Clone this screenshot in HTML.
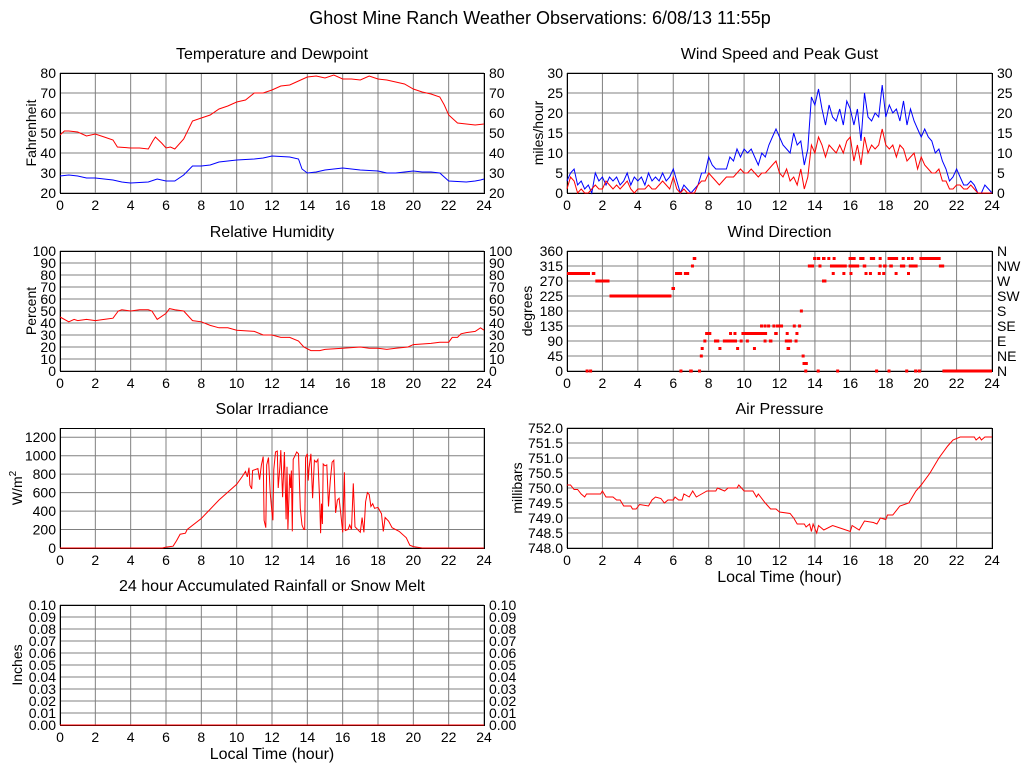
<!DOCTYPE html>
<html><head><meta charset="utf-8"><style>
html,body{margin:0;padding:0;background:#fff;}
svg{display:block;font-family:"Liberation Sans",Arial,sans-serif;}
</style></head><body>
<svg id="c" width="1024" height="768" viewBox="0 0 1024 768" xmlns="http://www.w3.org/2000/svg">
<rect width="1024" height="768" fill="#fff"/>
<text x="540" y="24" font-size="18" text-anchor="middle">Ghost Mine Ranch Weather Observations: 6/08/13 11:55p</text>
</svg>
<script>
// ---------- data ----------
const xTicks = [0,2,4,6,8,10,12,14,16,18,20,22,24];
const tempHours = [0,0.25,0.5,1,1.5,2,2.5,3,3.25,4,4.5,5,5.25,5.4,5.75,6,6.25,6.5,7,7.5,8,8.5,9,9.5,10,10.5,11,11.5,12,12.5,13,13.5,14,14.5,15,15.5,16,16.5,17,17.5,18,18.5,19,19.5,20,20.5,21,21.5,21.75,22,22.5,23,23.5,24];
const tempVals = [49,51,51,50.5,48.5,49.5,48,46.5,43,42.5,42.5,42,46,48,45,42.5,43,42,47,56,57.5,59,62,63.5,65.5,66.5,70,70,71.5,73.5,74,76,78,78.5,77.5,79,77,77,76.5,78.5,77,76.5,75.5,74.5,72,70.5,69.5,68,64,59,55,54.5,54,54.5];
const dewHours = [0,0.5,1,1.5,2,3,3.5,4,5,5.5,6,6.5,7,7.5,8,8.5,9,10,11,11.5,12,13,13.5,13.7,14,14.5,15,16,17,18,18.5,19,20,20.5,21,21.5,22,23,23.5,23.8,24];
const dewVals = [28.5,29,28.5,27.5,27.5,26.5,25.5,25,25.5,27,26,26,29,33.5,33.5,34,35.5,36.5,37,37.5,38.5,38,37,32,30,30.5,31.5,32.5,31.5,31,30,30,31,30.5,30.5,30,26,25.5,26,26.5,27];
const gustVals = [3,5,6,2,3,1,2,0,5,3,4,2,4,3,4,2,3,5,2,4,3,4,2,5,3,4,3,5,3,4,6,3,0,2,1,0,1,2,5,5,9,7,6,6,6,6,9,8,11,9,11,10,11,9,7,10,9,12,14,16,14,12,11,10,15,12,13,7,11,24,22,26,21,17,22,19,18,21,17,23,21,17,21,13,25,19,18,20,19,27,19,22,20,21,18,23,17,21,18,16,14,16,14,13,10,11,8,6,3,4,6,4,2,2,3,2,0,0,2,1,0];
const speedVals = [1,4,3,0,1,0,0,1,2,1,1,3,2,1,2,1,2,3,1,0,1,1,1,2,1,1,2,3,2,1,4,1,0,1,0,0,0,2,3,3,5,4,3,2,3,4,4,4,5,6,5,5,6,5,4,5,5,6,7,8,5,4,6,3,4,2,6,1,4,12,10,14,12,9,12,11,10,12,10,13,14,8,12,7,14,10,12,11,12,16,12,11,12,9,12,11,8,9,10,6,9,7,6,5,5,6,3,3,1,1,2,2,1,1,2,1,0,0,0,0,0];
const windStep = 0.2;
const rhHours = [0,0.5,0.8,1,1.5,2,2.5,3,3.3,3.5,4,4.5,5,5.2,5.5,6,6.2,6.5,7,7.5,8,8.5,9,9.5,10,11,11.5,12,12.5,13,13.5,13.8,14.2,14.7,15,16,17,17.5,18,18.5,19,19.7,20,21,21.5,22,22.2,22.5,22.7,23,23.5,23.8,24];
const rhVals = [45,41,43,42,43,42,43,44,50,51,50,51,51,50,43,48,52,51,50,42,41,38,36,36,34,33,30,30,28,28,25,20,17,17,18,19,20,19,19,18,19,20,22,23,24,24,28,28,31,32,33,36,34];
const dirStart = [0,1.4,1.6,2.4,5.9,6.1,6.6,7.0,7.1,1.05,1.25,6.35,6.9,7.4,7.5,7.55,7.7,7.8,8.3,8.55,8.8,9.15,9.4,9.55,9.75,9.85,10.9,11.1,11.3,11.6,11.8,10.1,11.1,11.4,12.3,10.5,12.4,11.7,12.35,12.9,12.75,13.05,13.15,12.85,13.25,13.3,13.4,13.6,14.2,14.85,15.9,16.7,17.6,17.85,18.2,18.8,19.3,21.0,14.95,15.55,15.95,16.8,17.05,17.55,17.8,18.5,19.2,14.4,13.9,14.1,14.4,14.7,15.0,15.9,16.5,17.1,17.6,18.1,18.9,19.2,19.4,19.9,14.1,15.2,17.4,18.1,19.1,19.6,19.8,21.2];
const dirEnd   = [1.3,1.6,2.4,5.9,6.1,6.5,6.9,7.05,7.3,1.1,1.35,6.45,7.1,7.55,7.6,7.65,7.75,8.15,8.6,8.7,9.6,9.25,9.5,9.65,9.8,11.3,10.95,11.15,11.35,11.65,12.2,10.15,11.15,11.6,12.7,10.55,12.6,11.9,12.4,13.0,12.8,13.1,13.25,12.95,13.3,13.6,13.45,13.95,14.35,15.8,16.5,16.9,17.75,18.05,18.4,19.1,19.8,21.3,15.05,15.65,16.05,16.9,17.15,17.65,17.95,18.6,19.3,14.65,14.0,14.3,14.6,14.8,15.05,16.3,16.8,17.4,17.7,18.7,18.95,19.25,19.45,21.1,14.2,15.3,17.5,18.2,19.2,19.7,20.0,24];
const dirDeg   = [292.5,292.5,270,225,247.5,292.5,292.5,315,337.5,0,0,0,0,0,45,67.5,90,112.5,90,67.5,90,112.5,112.5,67.5,90,112.5,135,135,135,135,135,90,90,90,90,67.5,67.5,112.5,112.5,112.5,135,135,180,90,45,22.5,0,315,315,315,315,315,315,315,315,315,315,315,292.5,292.5,292.5,292.5,292.5,292.5,292.5,292.5,292.5,270,337.5,337.5,337.5,337.5,337.5,337.5,337.5,337.5,337.5,337.5,337.5,337.5,337.5,337.5,0,0,0,0,0,0,0,0];
const solarHours = [0,5.8,6.0,6.4,6.6,6.8,7.1,7.2,8,9,10,10.3,10.5,10.6,10.7,10.75,10.85,10.9,11.2,11.3,11.4,11.5,11.55,11.65,11.7,11.8,11.9,12.0,12.05,12.1,12.2,12.3,12.35,12.45,12.5,12.6,12.7,12.8,12.85,12.9,13.0,13.05,13.1,13.15,13.2,13.3,13.4,13.5,13.6,13.7,13.8,13.85,13.9,14.0,14.05,14.1,14.2,14.3,14.4,14.5,14.6,14.7,14.75,14.8,14.85,14.9,15.0,15.1,15.2,15.3,15.4,15.5,15.6,15.7,15.8,15.9,16.0,16.1,16.15,16.3,16.4,16.5,16.6,16.7,16.8,17.0,17.1,17.2,17.3,17.4,17.5,17.6,17.7,17.8,18.0,18.2,18.3,18.4,18.6,18.8,19.2,19.6,19.8,20.0,20.5,24];
const solarVals = [0,0,10,20,80,150,160,200,320,520,690,770,830,770,870,680,640,840,860,740,900,990,300,220,900,980,600,380,300,850,1040,1050,650,880,1060,550,1040,310,880,200,800,650,840,180,960,1000,1040,1020,430,250,200,200,980,1020,730,870,1020,540,950,930,960,500,160,480,260,910,890,900,450,730,930,950,380,520,540,360,170,820,190,200,250,200,700,230,210,170,330,170,500,600,580,450,480,430,440,370,180,330,290,220,180,110,30,15,0,0];
const presHours = [0,0.2,0.4,0.6,0.8,1,1.1,1.9,2.0,2.2,2.6,2.8,3,3.2,3.6,3.7,3.9,4.1,4.6,4.8,5.0,5.3,5.5,5.7,6,6.1,6.3,6.5,6.6,6.9,7.1,7.3,7.6,7.9,8.4,8.5,8.9,9.1,9.6,9.7,10,10.5,10.7,10.8,11.2,11.5,11.8,12,12.6,12.8,13,13.4,13.5,13.7,13.8,13.9,14.1,14.2,14.5,15,15.5,16.0,16.1,16.5,16.8,17.3,17.5,17.7,18,18.1,18.4,18.8,19.3,19.7,20,20.5,21,21.5,21.8,22.2,23,23.1,23.3,23.4,23.6,24];
const presVals = [750.1,750.1,749.95,749.95,749.8,749.7,749.8,749.8,749.9,749.7,749.7,749.6,749.6,749.4,749.4,749.3,749.3,749.45,749.4,749.6,749.7,749.65,749.5,749.6,749.6,749.7,749.6,749.6,749.8,749.7,749.9,749.7,749.8,749.9,749.9,750.0,749.9,750.0,750.0,750.1,749.9,749.9,749.7,749.8,749.5,749.3,749.3,749.2,749.15,749.0,748.8,748.8,748.7,748.8,748.55,748.8,748.5,748.75,748.6,748.75,748.65,748.55,748.75,748.6,748.9,748.85,748.8,749.0,748.95,749.1,749.1,749.4,749.5,749.9,750.1,750.5,751.0,751.4,751.6,751.7,751.7,751.6,751.7,751.6,751.7,751.7];
const rainHours = [0,24];
const rainVals = [0,0];

const svg = document.getElementById('c');
const NS = 'http://www.w3.org/2000/svg';
function mk(tag, attrs, parent){
  const e = document.createElementNS(NS, tag);
  for (const k in attrs) e.setAttribute(k, attrs[k]);
  (parent||svg).appendChild(e);
  return e;
}

function panel(p){
  const g = mk('g', {});
  
  
  const xs = h => p.x + h/24*p.w;
  const ys = v => p.y + p.h - (v - p.min)/(p.max - p.min)*p.h;
  p.xs = xs; p.ys = ys; p.g = g;
  mk('rect', {x:p.x, y:p.y, width:p.w, height:p.h, fill:'#fff'}, g);
  xTicks.forEach(t=>{
    const l = mk('line', {x1:xs(t), x2:xs(t), y1:p.y, y2:p.y+p.h, stroke:'#808080', 'stroke-width':1}, g);
    
    
    const tx = mk('text', {x:xs(t), y:p.y+p.h+17, 'font-size':14, 'text-anchor':'middle'}, g);
    tx.textContent = t;
    
    
  });
  p.ticks.forEach((t,i)=>{
    const l = mk('line', {x1:p.x, x2:p.x+p.w, y1:ys(t), y2:ys(t), stroke:'#808080', 'stroke-width':1}, g);
    
    
    const tx = mk('text', {x:p.x-4, y:ys(t)+5, 'font-size':14, 'text-anchor':'end'}, g);
    tx.textContent = p.labels[i];
    
    
    if (p.right){
      const r = mk('text', {x:p.x+p.w+5, y:ys(t)+5, 'font-size':14}, g);
      r.textContent = p.right[i];
      
      
    }
  });
  mk('rect', {x:p.x+0.5, y:p.y+0.5, width:p.w, height:p.h, fill:'none', stroke:'#000', 'stroke-width':1}, g);
  const t = mk('text', {x:p.x+p.w/2, y:p.y-14, 'font-size':16, 'text-anchor':'middle'}, g);
  t.textContent = p.title;
  
  
  const yl = mk('text', {x:0, y:0, 'font-size':14, 'text-anchor':'middle', transform:`translate(${p.ylx},${p.y+p.h/2}) rotate(-90)`}, g);
  if (p.ylsup){ yl.textContent = p.ylabel; const s = mk('tspan', {dy:-6, 'font-size':10}, yl); s.textContent = p.ylsup; }
  else yl.textContent = p.ylabel;
  
  
  if (p.xlabel){
    const xl = mk('text', {x:p.x+p.w/2, y:p.y+p.h+34, 'font-size':16, 'text-anchor':'middle'}, g);
    xl.textContent = p.xlabel;
    
    
  }
  return p;
}
function line(p, hours, vals, color, name){
  const d = vals.map((v,i)=>(i?'L':'M')+p.xs(hours[i]).toFixed(1)+' '+p.ys(v).toFixed(1)).join(' ');
  const e = mk('path', {d:d, fill:'none', stroke:color, 'stroke-width':1}, p.g);
  
  
}
function range(a,b,s){const r=[];for(let v=a;v<=b+1e-9;v+=s)r.push(+v.toFixed(4));return r;}

const L = 60, R = 567, W = 424;
const tp = panel({name:'temperature-panel', x:L, y:73, w:W, h:120, min:20, max:80, ticks:range(20,80,10), labels:range(20,80,10), right:range(20,80,10), title:'Temperature and Dewpoint', ylabel:'Fahrenheit', ylx:36});
line(tp, tempHours, tempVals, '#ff0000', 'temperature-line');
line(tp, dewHours, dewVals, '#0000ff', 'dewpoint-line');
const wp = panel({name:'wind-speed-panel', x:R, y:73, w:W+1, h:120, min:0, max:30, ticks:range(0,30,5), labels:range(0,30,5), right:range(0,30,5), title:'Wind Speed and Peak Gust', ylabel:'miles/hour', ylx:543});
const windHours = gustVals.map((v,i)=>i*windStep);
line(wp, windHours, gustVals, '#0000ff', 'gust-line');
line(wp, windHours, speedVals, '#ff0000', 'speed-line');
const rp = panel({name:'humidity-panel', x:L, y:251, w:W, h:120, min:0, max:100, ticks:range(0,100,10), labels:range(0,100,10), right:range(0,100,10), title:'Relative Humidity', ylabel:'Percent', ylx:36});
line(rp, rhHours, rhVals, '#ff0000', 'humidity-line');
const dp = panel({name:'wind-direction-panel', x:R, y:251, w:W+1, h:120, min:0, max:360, ticks:range(0,360,45), labels:range(0,360,45), right:['N','NE','E','SE','S','SW','W','NW','N'], title:'Wind Direction', ylabel:'degrees', ylx:532});
dirDeg.forEach((d,i)=>{
  const x1 = dp.xs(dirStart[i]), x2 = dp.xs(dirEnd[i]);
  const r = mk('rect', {x:x1, y:dp.ys(d)-1.5, width:Math.max(3,x2-x1), height:3, fill:'#ff0000'}, dp.g);
  
  
});
const sp = panel({name:'solar-panel', x:L, y:428, w:W, h:120, min:0, max:1300, ticks:range(0,1200,200), labels:range(0,1200,200), right:null, title:'Solar Irradiance', ylabel:'W/m', ylsup:'2', ylx:22});
line(sp, solarHours, solarVals, '#ff0000', 'solar-line');
const pp = panel({name:'pressure-panel', x:R, y:428, w:W+1, h:120, min:748, max:752, ticks:range(748,752,0.5), labels:range(748,752,0.5).map(v=>v.toFixed(1)), right:null, title:'Air Pressure', ylabel:'millibars', ylx:522, xlabel:'Local Time (hour)'});
line(pp, presHours, presVals, '#ff0000', 'pressure-line');
const rnp = panel({name:'rain-panel', x:L, y:605, w:W, h:120, min:0, max:0.1, ticks:range(0,0.1,0.01), labels:range(0,0.1,0.01).map(v=>v.toFixed(2)), right:range(0,0.1,0.01).map(v=>v.toFixed(2)), title:'24 hour Accumulated Rainfall or Snow Melt', ylabel:'Inches', ylx:22, xlabel:'Local Time (hour)'});
const rl = mk('path', {d:`M${rnp.xs(rainHours[0])} ${rnp.ys(rainVals[0])} L${rnp.xs(rainHours[1])} ${rnp.ys(rainVals[1])}`, stroke:'#ff0000', 'stroke-width':1, fill:'none'}, rnp.g);


</script>
</body></html>
